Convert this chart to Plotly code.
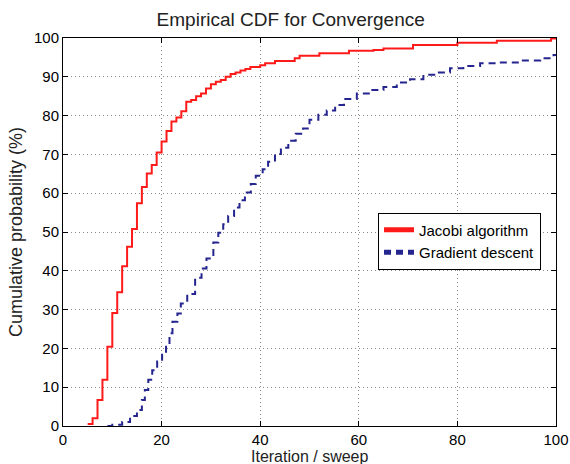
import plotly.graph_objects as go

# Jacobi algorithm ECDF (iteration, cumulative %)
jacobi_x = [5, 6, 7, 8, 9, 10, 11, 12, 13, 14, 15, 16, 17, 18, 19, 20, 21, 22, 23, 24,
            25, 26, 27, 28, 29, 30, 31, 32, 33, 34, 35, 36, 37, 38, 40, 41, 43, 47, 48,
            52, 58, 63, 65, 71, 80, 88, 99, 100]
jacobi_y = [0.5, 2, 6.7, 11.9, 20.4, 29.1, 34.5, 41.2, 46.2, 50.8, 57.4, 61.6, 65.1, 67.3,
            70.5, 73.3, 76.0, 78.5, 79.5, 81.1, 83.6, 84.0, 85.0, 85.7, 87.0, 88.1, 88.7,
            89.2, 90.0, 90.7, 91.1, 91.6, 92.0, 92.5, 93.0, 93.5, 94.1, 94.8, 95.4, 96.1,
            96.7, 96.9, 97.3, 98.2, 98.8, 99.3, 99.9, 100]

# Gradient descent ECDF (iteration, cumulative %)
grad_x = [9, 10, 12, 13.6, 15, 16, 16.6, 17.3, 18.1, 19.1, 20.1, 20.9, 21.6, 22.2, 23.2,
          23.9, 25.2, 26.8, 28.1, 29.1, 30.5, 31.5, 32.5, 33.5, 34.7, 35.8, 36.9, 38.1,
          39.1, 40.5, 41.6, 43, 44.2, 45.7, 47.2, 48.7, 50, 51.8, 53.5, 55.2, 57, 59.6,
          62.3, 65, 67.7, 70.4, 73.1, 75.8, 78.5, 81.2, 84.6, 88.6, 92.7, 96.8, 99.5, 100]
grad_y = [0, 0.3, 1.0, 2.6, 4.1, 6.7, 9.3, 11.9, 14.4, 16.6, 18.7, 21.0, 23.9, 26.9, 29.0,
          31.6, 34.0, 38.2, 40.6, 43.2, 47.3, 49.8, 52.0, 54.1, 56.3, 58.2, 60.2, 62.4,
          64.5, 66.2, 68.1, 70.1, 71.7, 73.5, 75.3, 76.7, 78.9, 80.2, 81.3, 82.7, 84.3,
          85.7, 86.6, 87.4, 88.5, 89.4, 90.5, 91.1, 92.2, 92.8, 93.5, 93.7, 94.2, 94.8,
          95.6, 95.6]

x_ticks = [0, 20, 40, 60, 80, 100]
y_ticks = [0, 10, 20, 30, 40, 50, 60, 70, 80, 90, 100]

FONT = "Liberation Sans"

fig = go.Figure()
fig.add_trace(go.Scatter(x=jacobi_x, y=jacobi_y, mode="lines", line_shape="hv",
                         name="Jacobi algorithm",
                         line=dict(color="#ff1a1a", width=2)))
fig.add_trace(go.Scatter(x=grad_x, y=grad_y, mode="lines", line_shape="hv",
                         name="Gradient descent",
                         line=dict(color="#25258f", width=2, dash="7px,5px")))

axis_common = dict(
    showline=True, linecolor="black", linewidth=1, mirror="ticks",
    ticks="inside", ticklen=5, tickcolor="black",
    showgrid=True, gridcolor="#8a8a8a", griddash="1px,3px", gridwidth=1,
    zeroline=False, automargin=False,
    tickfont=dict(family=FONT, size=15, color="black"),
)

fig.update_layout(
    width=570, height=464,
    margin=dict(l=63, r=14, t=38, b=38),
    paper_bgcolor="white", plot_bgcolor="white",
    title=dict(text="Empirical CDF for Convergence", x=0.51, xanchor="center",
               y=0.959, yanchor="middle",
               font=dict(family=FONT, size=19, color="#222222")),
    xaxis=dict(range=[0, 100], tickvals=x_ticks, **axis_common),
    yaxis=dict(range=[0, 100], tickvals=y_ticks,
               title=dict(text="Cumulative probability (%)", standoff=6,
                          font=dict(family=FONT, size=18, color="#222222")),
               **axis_common),
    legend=dict(x=0.639, y=0.55, xanchor="left", yanchor="top",
                bgcolor="white", bordercolor="black", borderwidth=1,
                font=dict(family=FONT, size=15, color="black"),
                tracegroupgap=0, itemsizing="constant"),
    showlegend=True,
    annotations=[dict(text="Iteration / sweep", xref="paper", yref="paper",
                      x=0.5, y=-0.078, xanchor="center", yanchor="middle",
                      showarrow=False,
                      font=dict(family=FONT, size=16, color="#222222"))],
)

fig.write_html("out.html", config={"displayModeBar": False},
               post_script="document.body.style.margin='0';document.body.style.padding='0';")
